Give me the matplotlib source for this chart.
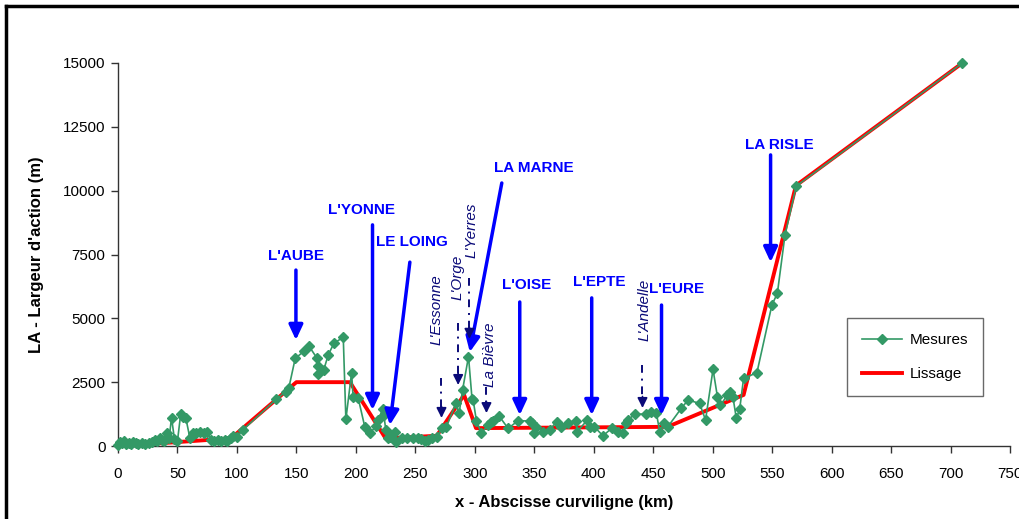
import matplotlib
matplotlib.use("Agg")
import matplotlib.pyplot as plt
from matplotlib.lines import Line2D

plt.rcParams['font.family'] = ['Liberation Sans', 'DejaVu Sans']

# ---------------- data ----------------
x_mesures = [0, 1.5, 3, 5, 7, 9, 11, 13, 15, 17, 20, 23, 26, 29, 31, 33, 35, 37, 39,
             41, 43, 45, 47.5, 50, 52.7, 55, 57, 60.5, 63, 66, 69, 72, 75, 78, 81, 84,
             87, 90, 92, 95, 97, 100, 105, 133, 141, 143.7, 149, 156.6, 160.5, 167,
             168.3, 168, 173, 176.7, 181.5, 189.4, 191.6, 196.4, 197.7, 202, 207.6,
             211.8, 217, 219, 222.4, 223.5, 225.2, 227, 229, 232.8, 233.6, 238.4, 243,
             248, 252, 255, 258, 261, 264, 267.8, 272.8, 276, 284, 286.8, 289.7, 294.7,
             297.7, 298.6, 301.4, 305.6, 311, 314, 315.6, 320.4, 328, 336.4, 346, 348,
             349.8, 351.8, 357.4, 363, 368.7, 372.8, 378.4, 385.4, 386, 394.7, 396.6,
             400.3, 407.8, 415.7, 420.4, 425, 427.4, 428.8, 434.5, 444.3, 448.5, 452.7,
             455.5, 459, 462.4, 473.7, 479.3, 489, 494, 500.3, 504, 506.5, 512.4, 514.3,
             517, 519.9, 522.7, 526, 537.2, 549.8, 554.4, 560.8, 570.3, 710]
y_mesures = [50, 150, 100, 200, 80, 120, 60, 150, 100, 80, 130, 60, 100, 150, 250, 200,
             300, 250, 200, 500, 300, 1110, 260, 200, 1240, 1150, 1100, 300, 520, 500,
             530, 520, 540, 250, 200, 230, 180, 250, 200, 300, 400, 350, 630, 1830, 2130,
             2290, 3430, 3720, 3920, 3460, 3130, 2820, 2980, 3560, 4020, 4260, 1040, 2870,
             1900, 1870, 730, 500, 780, 1020, 1440, 1210, 625, 300, 370, 560, 170, 300,
             300, 320, 330, 280, 200, 230, 300, 360, 690, 730, 1670, 1280, 2190, 3500,
             1830, 1800, 980, 500, 820, 950, 980, 1175, 690, 990, 980, 900, 520, 760, 560,
             625, 950, 760, 910, 980, 560, 1020, 760, 760, 400, 720, 560, 520, 890, 1020,
             1250, 1250, 1340, 1280, 560, 890, 760, 1480, 1800, 1670, 1020, 3000, 1930,
             1590, 2000, 2130, 1930, 1080, 1440, 2650, 2870, 5520, 5980, 8260, 10180, 15000]

x_lissage = [18, 95, 150, 195, 225, 268, 291, 301, 462, 526, 570, 710]
y_lissage = [50, 300, 2500, 2500, 300, 400, 2000, 700, 750, 2000, 10200, 15000]

# main rivers: label, label (x, y), arrow start (x, y), arrow tip (x, y)
main_labels = ["L'AUBE", "L'YONNE", "LE LOING", "LA MARNE", "L'OISE", "L'EPTE", "L'EURE", "LA RISLE"]
main_label_pos = [(149.6, 7440), (205, 9240), (247, 7990), (350, 10890),
                  (343.7, 6300), (405, 6420), (469.7, 6150), (556, 11790)]
main_arrow_from = [(149.6, 6890), (214, 8660), (245.4, 7200), (322.7, 10300),
                   (337.8, 5640), (398.3, 5800), (457, 5520), (548.7, 11400)]
main_arrow_to = [(149.6, 4150), (214, 1410), (228.6, 820), (295.8, 3680),
                 (337.8, 1210), (398.3, 1210), (457, 1210), (548.7, 7200)]

# minor rivers (italic, rotated)
minor_labels = ["L'Essonne", "L'Orge", "L'Yerres", "La Bièvre", "L'Andelle"]
minor_label_pos = [(268, 5330), (285.7, 6620), (297.5, 8460), (312.6, 3560), (443, 5330)]
minor_arrow_from = [(272, 2660), (286, 4820), (295.5, 6580), (309.8, 2320), (441, 3170)]
minor_arrow_to = [(272, 1100), (286, 2390), (295.5, 4200), (309.8, 1290), (441, 1490)]

# ---------------- figure ----------------
fig = plt.figure(figsize=(10.2, 5.19), dpi=100)
ax = fig.add_axes([118 / 1020, 1 - 446 / 519, (1010 - 118) / 1020, (446 - 63) / 519])

green = '#339966'
ax.plot(x_mesures, y_mesures, color=green, lw=1.2, marker='D', ms=4.8,
        mec=green, mfc=green, label='Mesures', clip_on=False, zorder=3)
ax.plot(x_lissage, y_lissage, color='#FF0000', lw=2.8, label='Lissage',
        clip_on=False, zorder=2)

ax.set_xlim(0, 750)
ax.set_ylim(0, 15000)
ax.set_xticks(range(0, 751, 50))
ax.set_yticks(range(0, 15001, 2500))
for s in ['top', 'right']:
    ax.spines[s].set_visible(False)
for s in ['left', 'bottom']:
    ax.spines[s].set_color('#333333')
    ax.spines[s].set_linewidth(1.0)
ax.tick_params(axis='both', direction='out', length=5, width=1, color='#333333',
               labelsize=11, pad=4)
ax.tick_params(axis='x', pad=10)
ax.set_xlabel("x - Abscisse curviligne (km)", fontsize=12, fontweight='bold', labelpad=10)
ax.set_ylabel("LA - Largeur d'action (m)", fontsize=12, fontweight='bold', labelpad=14)

for lab, lp, a0, a1 in zip(main_labels, main_label_pos, main_arrow_from, main_arrow_to):
    ax.text(lp[0], lp[1], lab, color='#0000FF', fontsize=11, fontweight='bold',
            ha='center', va='center', zorder=5)
    ax.annotate('', xy=a1, xytext=a0,
                arrowprops=dict(arrowstyle='-|>,head_length=0.9,head_width=0.42',
                                color='#0000FF', lw=2.5, shrinkA=0, shrinkB=0),
                zorder=5)

navy = '#0A0A78'
for lab, lp, a0, a1 in zip(minor_labels, minor_label_pos, minor_arrow_from, minor_arrow_to):
    ax.text(lp[0], lp[1], lab, color=navy, fontsize=11, fontstyle='italic',
            rotation=90, ha='center', va='center', zorder=5)
    ax.plot([a0[0], a1[0]], [a0[1], a1[1] + 400], color=navy, lw=1.4,
            linestyle=(0, (4, 3, 1, 3)), zorder=5)
    ax.annotate('', xy=a1, xytext=(a1[0], a1[1] + 450),
                arrowprops=dict(arrowstyle='-|>,head_length=0.6,head_width=0.3',
                                color=navy, lw=1.2, shrinkA=0, shrinkB=0),
                zorder=5)

leg = ax.legend(loc='upper left', bbox_to_anchor=((847 - 118) / 892, (446 - 318) / 383),
                borderaxespad=0, fontsize=11, frameon=True, fancybox=False,
                edgecolor='#444444', borderpad=1.0, labelspacing=1.3,
                handlelength=2.6, handletextpad=0.5)
leg.get_frame().set_linewidth(1.0)

# figure frame (left and top edges visible)
fig.add_artist(Line2D([6 / 1020, 6 / 1020], [0, 1 - 6 / 519], color='black', lw=2.5,
                      transform=fig.transFigure))
fig.add_artist(Line2D([6 / 1020, 1], [1 - 6 / 519, 1 - 6 / 519], color='black', lw=2.5,
                      transform=fig.transFigure))

fig.savefig('out.png', dpi=100)
